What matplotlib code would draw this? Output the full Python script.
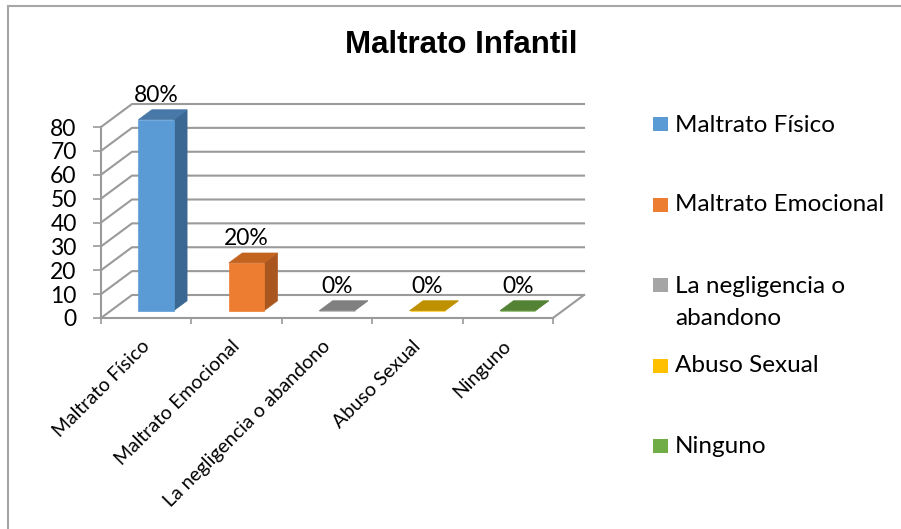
import numpy as np
import matplotlib.pyplot as plt
from matplotlib.patches import Polygon, Rectangle
from matplotlib.lines import Line2D
from matplotlib.transforms import IdentityTransform

# datos del grafico
categorias = ['Maltrato Físico', 'Maltrato Emocional', 'La negligencia o abandono',
              'Abuso Sexual', 'Ninguno']
leyenda = ['Maltrato Físico', 'Maltrato Emocional', 'La negligencia o\nabandono',
           'Abuso Sexual', 'Ninguno']
valores = [80, 20, 0, 0, 0]
etiquetas = ['80%', '20%', '0%', '0%', '0%']
y_ticks = [0, 10, 20, 30, 40, 50, 60, 70, 80]

# colores: cara frontal / lateral / superior
c_frente = ['#5B9BD5', '#ED7D31', '#A5A5A5', '#FFC000', '#70AD47']
c_lado = ['#3A6893', '#A9561F', '#767676', '#B88A00', '#4E7D32']
c_tapa = ['#4878A8', '#C2641F', '#808080', '#BF9000', '#548235']

W, H = 901, 529
fig = plt.figure(figsize=(W / 100, H / 100), dpi=100)

def fx(x):
    return x / W

def fy(y):
    return 1 - y / H

# plano frontal (pixeles desde arriba-izquierda)
x0, x1, y0, y1 = 101, 553, 318, 127
ax = fig.add_axes([fx(x0), fy(y0), (x1 - x0) / W, (y0 - y1) / H])
ax.set_xlim(0, len(categorias))
ax.set_ylim(0, max(y_ticks))
ax.set_autoscale_on(False)

# profundidad 3D en pixeles
DX, DY = 31, 23
Z_FRENTE, Z_FONDO = 0.32, 0.75
ANCHO = 0.39
gris = '#9A9A9A'
ident = IdentityTransform()

def P(x, y, z):
    return ax.transData.transform((x, y)) + np.array([DX * z, DY * z])

# pared del fondo y pared lateral
n = len(categorias)
for v in y_ticks:
    pts = np.array([P(0, v, 0), P(0, v, 1), P(n, v, 1)])
    ax.plot(pts[:, 0], pts[:, 1], color=gris, lw=1.5, transform=ident,
            clip_on=False, zorder=1)
# borde derecho del piso
pts = np.array([P(n, 0, 0), P(n, 0, 1)])
ax.plot(pts[:, 0], pts[:, 1], color=gris, lw=1.5, transform=ident,
        clip_on=False, zorder=1)

# barras 3D
for i, v in enumerate(valores):
    a = i + 0.5 - ANCHO / 2
    b = i + 0.5 + ANCHO / 2
    frente = [P(a, 0, Z_FRENTE), P(b, 0, Z_FRENTE), P(b, v, Z_FRENTE), P(a, v, Z_FRENTE)]
    lado = [P(b, 0, Z_FRENTE), P(b, 0, Z_FONDO), P(b, v, Z_FONDO), P(b, v, Z_FRENTE)]
    tapa = [P(a, v, Z_FRENTE), P(b, v, Z_FRENTE), P(b, v, Z_FONDO), P(a, v, Z_FONDO)]
    for cara, col in ((lado, c_lado[i]), (frente, c_frente[i]), (tapa, c_tapa[i])):
        ax.add_patch(Polygon(cara, closed=True, facecolor=col, edgecolor=col,
                             lw=0.5, transform=ident, clip_on=False, zorder=3))
    px, py = P(i + 0.5, v, Z_FRENTE)
    ax.text(px, py + 18, etiquetas[i], transform=ident, ha='center', va='baseline',
            fontsize=16.5, family='Lato', zorder=4)

# ejes
for s in ('top', 'right'):
    ax.spines[s].set_visible(False)
for s in ('left', 'bottom'):
    ax.spines[s].set_color(gris)
    ax.spines[s].set_linewidth(1.5)
    ax.spines[s].set_zorder(2)
ax.patch.set_visible(False)
ax.set_yticks(y_ticks)
ax.set_yticklabels([str(t) for t in y_ticks], family='Lato', fontsize=16.5)
ax.tick_params(axis='y', direction='out', length=6, width=1.2, color=gris, pad=11.5)
ax.set_xticks(range(n + 1))
ax.set_xticklabels([])
ax.tick_params(axis='x', direction='out', length=4.5, width=1.2, color=gris)
for i, c in enumerate(categorias):
    ax.annotate(c, xy=(i + 0.5, 0), xycoords='data', xytext=(-4, -14),
                textcoords='offset points', rotation=45, ha='right', va='top',
                rotation_mode='anchor', family='Lato', fontsize=14)

# titulo
fig.text(fx(461.5), fy(45), 'Maltrato Infantil', ha='center', va='center',
         family='Liberation Sans', weight='bold', fontsize=22.5)

# leyenda (linea base de la ultima linea de cada texto)
ley_y = [124, 205, 285, 366, 445.5]
ley_base = [131.5, 211, 325, 372.5, 453]
for i, lab in enumerate(leyenda):
    fig.add_artist(Rectangle((fx(653), fy(ley_y[i] + 7)), 15 / W, 14 / H,
                             transform=fig.transFigure, facecolor=c_frente[i],
                             edgecolor='none'))
    fig.text(fx(675), fy(ley_base[i]), lab, ha='left', va='baseline',
             family='Lato', fontsize=17.5, linespacing=1.65)

# borde del area del grafico
fig.add_artist(Line2D([fx(8), fx(8)], [fy(6), 0], color='#A6A6A6', lw=1.5,
                      transform=fig.transFigure))
fig.add_artist(Line2D([fx(8), 1], [fy(6), fy(6)], color='#A6A6A6', lw=1.5,
                      transform=fig.transFigure))

fig.savefig('out.png', dpi=100, facecolor='white')
